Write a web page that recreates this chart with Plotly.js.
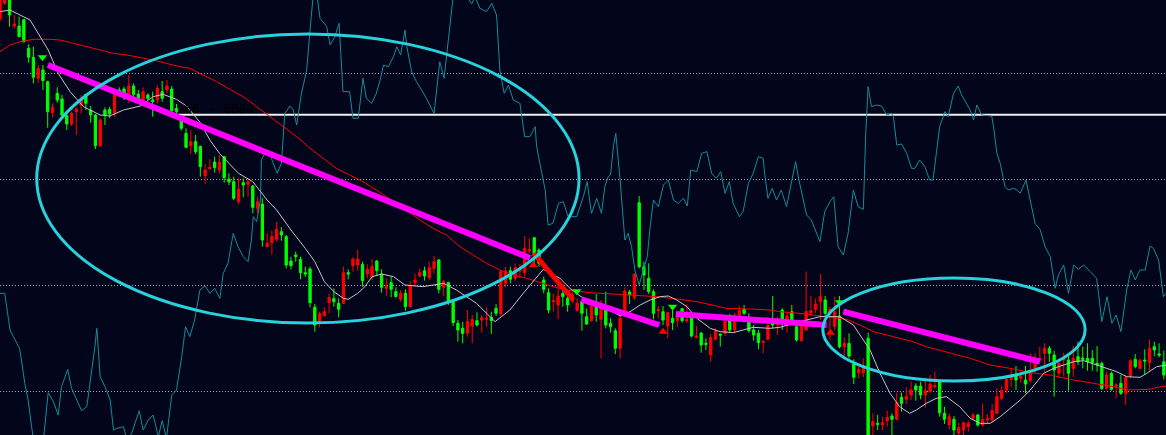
<!DOCTYPE html>
<html><head><meta charset="utf-8">
<script src="https://cdn.plot.ly/plotly-3.0.1.min.js"></script>
<style>html,body{margin:0;padding:0;background:#03051a;overflow:hidden}#chart{width:1166px;height:435px;}</style>
</head><body><div id="chart"></div>
<script>
// ---- candles (price units) ----
const high = [1520,1530,1525,1455,1450,1443,1367,1360,1305,1305,
1258,1190,1238,1215,1160,1165,1178,1215,1218,1182,
1158,1145,1178,1180,1230,1238,1240,1275,1250,1230,
1238,1220,1225,1245,1257,1260,1242,1188,1155,1115,
1110,1095,1063,1008,1022,1030,1035,1032,980,970,
965,965,965,945,910,905,800,808,835,818,
795,730,745,730,700,700,588,565,578,618,
635,605,700,692,728,750,715,707,723,720,
692,665,670,638,630,632,657,680,695,700,
715,732,723,660,655,600,540,535,570,555,
563,555,578,565,588,690,700,700,710,708,
792,785,788,755,670,635,620,650,635,615,
625,605,600,575,585,618,600,625,545,515,
555,638,630,680,912,715,710,632,582,582,
565,575,560,576,588,552,522,503,485,498,
515,499,545,558,562,582,585,560,525,510,
480,550,612,550,575,565,585,525,535,685,
612,605,678,612,580,610,612,488,500,422,
405,425,502,260,255,250,268,260,322,322,
338,355,350,355,360,375,385,360,280,260,
252,232,235,238,262,258,290,258,288,335,
342,372,392,402,382,402,440,440,460,470,
462,448,422,442,432,462,475,460,470,450,
462,415,385,385,350,375,375,422,438,425,
452,482,475,470,448];
const open = [1443,1490,1515,1422,1422,1441,1355,1328,1265,1290,
1255,1162,1220,1203,1153,1128,1165,1185,1217,1170,
1155,1063,1170,1172,1160,1230,1233,1215,1242,1218,
1200,1215,1200,1200,1225,1230,1233,1175,1143,1100,
1063,1075,1061,973,994,1014,990,1030,963,955,
895,952,947,942,875,888,760,772,782,805,
790,717,735,722,682,693,578,532,553,592,
604,590,590,682,703,705,707,678,668,717,
678,635,652,625,602,620,580,652,672,688,
667,695,720,638,652,595,530,515,500,522,
538,540,542,548,575,558,650,688,665,687,
682,748,787,750,660,622,595,585,620,605,
597,568,595,550,538,580,542,575,530,508,
455,560,624,607,892,700,665,625,568,565,
522,545,538,574,537,548,488,501,470,435,
482,498,500,540,510,555,572,547,510,500,
472,482,535,525,570,535,565,520,478,510,
562,572,595,600,560,520,552,460,470,408,
382,382,485,222,230,225,238,252,242,308,
302,315,342,342,315,325,340,355,260,225,
242,200,210,220,245,255,225,240,240,260,
305,330,362,372,365,360,358,395,422,440,
455,435,380,420,420,395,430,426,425,425,
410,410,335,380,342,350,320,372,422,395,
420,412,460,438,415];
const close = [1510,1520,1455,1428,1390,1375,1328,1268,1295,1258,
1165,1178,1200,1155,1128,1160,1173,1200,1190,1155,
1063,1140,1155,1158,1220,1215,1218,1242,1217,1200,
1225,1205,1195,1235,1205,1242,1168,1165,1115,1058,
1075,1045,1000,990,998,997,1014,967,954,905,
933,945,955,878,895,780,770,790,812,795,
705,703,730,682,678,592,525,560,565,607,
595,572,682,678,723,723,658,692,700,688,
638,642,632,610,620,580,643,660,682,672,
697,715,632,655,595,532,510,500,535,542,
525,547,545,538,560,685,687,662,697,692,
755,752,732,710,632,570,598,612,610,585,
617,590,560,528,580,555,578,525,520,455,
545,627,615,678,700,675,625,560,572,540,
562,532,550,538,542,492,492,465,467,487,
507,495,535,510,552,568,560,508,495,472,
475,525,525,530,530,552,530,480,532,565,
568,588,610,560,572,565,460,470,432,368,
392,398,180,235,227,232,248,242,292,290,
310,330,330,315,328,348,343,262,242,250,
210,217,232,230,255,225,242,245,268,310,
328,362,368,360,372,348,380,417,425,455,
440,390,410,425,380,425,415,422,415,412,
405,335,375,332,345,320,368,418,400,418,
417,455,450,435,375];
const low = [1435,1485,1420,1415,1388,1372,1312,1250,1252,1230,
1117,1148,1192,1145,1110,1122,1095,1160,1170,1132,
1053,1060,1125,1145,1150,1210,1200,1190,1210,1190,
1195,1200,1150,1190,1195,1220,1165,1155,1108,1055,
1038,1038,970,948,992,982,980,952,945,900,
887,908,910,860,860,760,758,735,775,778,
695,692,715,662,670,578,505,518,550,560,
580,548,588,662,685,688,640,665,660,672,
622,613,608,608,595,568,578,640,668,658,
660,680,620,612,585,522,475,470,490,470,
520,502,520,498,552,552,638,650,658,665,
670,740,700,700,620,560,565,542,580,565,
590,565,508,525,535,535,425,515,502,438,
425,550,588,600,695,630,618,542,545,525,
485,510,518,532,532,488,485,442,450,415,
480,460,492,502,500,552,555,502,478,452,
440,480,515,495,510,502,525,475,475,508,
555,560,540,552,480,510,455,432,425,348,
365,368,170,195,210,210,220,190,238,265,
288,300,298,302,278,322,335,250,228,212,
195,190,192,205,240,220,220,230,232,257,
298,320,340,330,352,320,352,382,415,385,
415,310,365,370,328,370,405,395,388,388,
385,330,332,328,305,315,285,365,395,392,
378,388,432,428,362];

// ---- oscillator (teal) ----
const tealX = [0,1,1.4,2.1,2.8,4.1,4.5,5.2,5.9,6.6,7,9.1,9.4,10.1,11.2,12.2,12.9,14.2,15,16.1,17.1,18.2,19,19.9,20.3,21,22,23.1,23.8,24.5,25.9,26.6,27.6,29.2,30,31.1,32.1,33.2,34,34.9,36,37,38.1,38.9,
39.8,40.8,41.9,43,44,45,46.1,46.8,47.8,48.9,49.9,51,52,52.7,53.1,53.8,54.6,54.8,55.9,56.9,58.1,59,59.7,60.8,61.5,62.2,63.2,64.3,65,65.7,66.4,67.1,68.5,69.2,70.2,71.1,71.9,73.3,74,75.1,76.1,76.8,77.9,78.9,
79.7,80.4,81.4,82.5,83.2,84,84.9,85.3,86.3,87.3,88.4,89.4,91,91.5,92.2,93.1,93.6,94.3,95,97.8,98.9,99.6,100.6,102,103.1,104.1,104.8,105.7,106.6,107.6,109,110,111.1,112.2,112.5,113.6,114.3,114.9,115.9,117.1,118.1,119.1,
120.9,122.3,123.1,123.7,124,125.1,126.1,126.8,127.5,128,128.6,129.1,130,131,131.7,132.4,133.1,134,134.9,135.7,136.3,137,138,139.1,140.1,141.2,142.2,143.3,144.1,144.8,146.1,147.1,148.2,149.2,150.2,151.1,152,152.9,153.7,155,155.8,156.9,157.9,159,
160,160.3,161,161.9,162.8,163.8,164.9,165.9,166.8,167.5,168.4,169.1,170.1,171.2,171.9,172.9,174,174.8,175.7,176.8,177.8,178.9,179.9,181,181.5,182,182.7,183.8,184.8,185.9,186.9,187.3,188,189,190.1,191.1,191.8,192.8,193.9,194.9,195.6,196.3,197,198.1,198.8,
199.9,200.9,201.6,202.7,203.4,204.1,204.8,205.8,207.9,208.3,209,209.7,210.7,211.4,212.5,213.2,213.9,215.1,216,217,218.1,219.1,220.2,221.2,221.9,223,224,225.1,226.1,227.2,228.6,229.9,230.3,231,232.1,233.1,234,235,235.5,236.2,237.1,238,239,240.1,241.1,241.8,242.9,243.9,244.5];
const tealY = [620,620,580,510,490,455,420,350,300,230,180,180,220,322,295,255,340,392,335,300,268,280,360,460,515,370,340,300,210,215,220,180,200,268,210,240,255,190,238,185,315,330,430,520,
490,540,630,642,620,635,605,680,710,800,760,730,715,780,850,835,900,1020,1050,1025,980,1010,1160,1182,1170,1125,1220,1290,1410,1520,1520,1445,1420,1365,1390,1430,1225,1225,1145,1145,1265,1205,1190,1220,
1260,1305,1300,1330,1360,1335,1410,1360,1285,1255,1230,1205,1160,1220,1315,1265,1330,1430,1510,1510,1488,1510,1475,1465,1490,1455,1290,1220,1245,1200,1190,1090,1090,1120,1060,980,930,825,830,890,895,850,
850,910,955,890,860,905,860,940,970,975,1060,1100,960,780,800,760,690,645,690,730,820,900,880,945,960,900,890,905,882,990,985,1040,1045,980,965,985,920,955,890,850,865,950,980,1030,
1025,980,905,935,900,930,880,955,1015,960,900,855,840,800,775,865,895,910,760,735,800,930,880,872,1100,1240,1180,1185,1182,1155,1160,1150,1065,1068,1040,995,995,1020,1000,960,960,1040,1120,1165,1150,
1220,1242,1215,1190,1170,1140,1185,1155,1152,1120,1040,1010,940,930,935,930,920,960,900,830,810,760,730,635,675,705,620,705,692,705,685,665,620,535,610,530,555,505,555,630,690,660,690,690,762,755,720,610,620];

// ---- moving averages ----
const maWhiteX = [0,2.1,4.2,6.3,8,10.1,12.2,14.7,17.5,21,23,25.9,29.4,32.1,34.2,37,39.1,42,44,46,48,50,53,56,58,61,64,66,68,70,72,73,75,76.5,78,80,82.5,84.9,88.7,93,95.7,99.9,103.8,106.9,109.7,112.5,113.9,117.4,119.5,121.6,123.7,125.8,127.9,130,132.1,134.2,136.3,138.4,140.1,141.9,144,146.1,148.9,151,153.7,155.8,157.9,161.4,163.5,167.7,171.9,176.1,178.9,182.4,184.5,186.6,188.6,190.7,192.1,194.2,196.3,198.4,201.2,203.4,205.5,207.6,209.7,211.8,213.9,216,218.8,220.9,223,225.1,227.2,229.9,232,234.1,236.2,239,240.4,242.5,244.5];
const maWhiteY = [1465,1470,1455,1440,1400,1350,1280,1225,1180,1155,1152,1170,1182,1210,1217,1202,1182,1132,1080,1040,1010,980,955,900,870,810,755,715,655,625,605,602,620,640,670,678,670,645,640,650,630,590,535,570,620,670,692,665,635,612,595,585,570,552,565,585,600,610,612,600,580,545,515,505,502,510,518,515,518,535,550,550,525,450,380,320,280,260,270,290,305,310,280,245,230,230,250,275,300,330,380,395,405,415,418,405,395,385,370,368,380,400,405];
const maRedX = [0,2.1,4.2,7,10.5,12.6,15.4,18.2,21,23.8,26.6,29.4,32.1,34.9,37.7,39.8,42.6,45.4,48.2,51,53.8,56.6,59.4,62.2,65,67.8,70.5,73.3,76.1,78.9,82.5,85.2,88,90.8,93.6,96.4,99.2,102,104.8,107.6,110.4,113.2,116,118.8,121.6,123.7,128.6,133.5,137.7,141.9,146.1,150.2,152.3,157.2,161.4,163.5,167.7,171.9,175.4,177.5,180.3,183.1,185.9,188.7,191.4,194.2,197,199.2,203.4,207.6,211.8,216,220.2,224.4,228.6,231.3,234.1,236.2,239,241.1,242.5,244.5];
const maRedY = [1345,1365,1375,1382,1382,1380,1370,1360,1350,1340,1335,1328,1320,1310,1300,1295,1275,1255,1232,1210,1180,1150,1120,1090,1055,1025,995,975,955,930,895,870,840,815,795,760,735,710,690,675,665,652,640,630,625,622,618,613,610,603,595,582,575,573,570,565,560,552,545,542,525,505,495,485,475,460,450,440,425,405,395,382,375,362,352,345,338,330,330,332,338,342];

// ---- hand-drawn trend lines ----
const trendMagenta = [
  {x:[10.06,111.1], y:[1305,726]},
  {x:[121.9,138.2], y:[602,525]},
  {x:[141.7,173.3], y:[558,525]},
  {x:[176.8,218.0], y:[565,415]}
];
const trendRed = {x:[111.9,120.2], y:[740,600]};

// ---- signals ----
const sellX = [8.9,120.9,141,176];
const sellY = [1328,626,580,593];
const buyX = [111.8,139,174.1];
const buyY = [705,505,502];

const levelY = 1156;      // horizontal white level
const levelStart = 37.3;
const gridLevels = [326,644,962,1280];
const labelText = '66 - 6664';

const idx = high.map((_, i) => i);

const traces = [
  {type:'scatter', mode:'lines', x:tealX, y:tealY, line:{color:'#118d99', width:1}, hoverinfo:'skip'},
  {type:'candlestick', x:idx, open:open, high:high, low:low, close:close, whiskerwidth:0,
   increasing:{line:{color:'#ff0000', width:1}, fillcolor:'#ff0000'},
   decreasing:{line:{color:'#00ff00', width:1}, fillcolor:'#00ff00'}, hoverinfo:'skip'},
  {type:'scatter', mode:'lines', x:maRedX, y:maRedY, line:{color:'#ff0000', width:1}, hoverinfo:'skip'},
  {type:'scatter', mode:'lines', x:maWhiteX, y:maWhiteY, line:{color:'#c4c4c4', width:1}, hoverinfo:'skip'}
];
trendMagenta.forEach(t => traces.push({type:'scatter', mode:'lines', x:t.x, y:t.y, line:{color:'#ff00ff', width:6}, hoverinfo:'skip'}));
traces.push({type:'scatter', mode:'lines', x:trendRed.x, y:trendRed.y, line:{color:'#ff0000', width:5}, hoverinfo:'skip'});
traces.push({type:'scatter', mode:'markers', x:sellX, y:sellY, marker:{symbol:'triangle-down', size:8, color:'#00ff00'}, hoverinfo:'skip'});
traces.push({type:'scatter', mode:'markers', x:buyX, y:buyY, marker:{symbol:'triangle-up', size:8, color:'#ff0000'}, hoverinfo:'skip'});

const layout = {
  width:1166, height:435,
  margin:{l:0,r:0,t:0,b:0,pad:0},
  paper_bgcolor:'#03051a', plot_bgcolor:'#03051a',
  showlegend:false,
  xaxis:{range:[0,244.45], showgrid:false, zeroline:false, showticklabels:false, ticks:'', showline:false, rangeslider:{visible:false}, fixedrange:true},
  yaxis:{range:[195,1500], tickvals:gridLevels, showgrid:true, gridcolor:'#a4a6b4', griddash:'1px,2px', gridwidth:1, zeroline:false, showticklabels:false, ticks:'', showline:false, fixedrange:true},
  shapes:[
    {type:'line', xref:'x', yref:'y', x0:levelStart, x1:245, y0:levelY, y1:levelY, line:{color:'#f0f0f0', width:2}, layer:'between'},
    {type:'circle', xref:'x', yref:'y', x0:7.7, x1:121.4, y0:531, y1:1398, line:{color:'#28d2dc', width:3}, layer:'above'},
    {type:'circle', xref:'x', yref:'y', x0:172.5, x1:227.5, y0:357, y1:666, line:{color:'#28d2dc', width:3}, layer:'above'}
  ],
  annotations:[
    {x:levelStart+0.8, y:levelY+20, xref:'x', yref:'y', text:labelText, showarrow:false, xanchor:'left', yanchor:'middle',
     font:{family:'DejaVu Sans Mono', size:13, color:'#000000'}}
  ]
};
Plotly.newPlot('chart', traces, layout, {displayModeBar:false, staticPlot:true});
</script>
</body></html>
